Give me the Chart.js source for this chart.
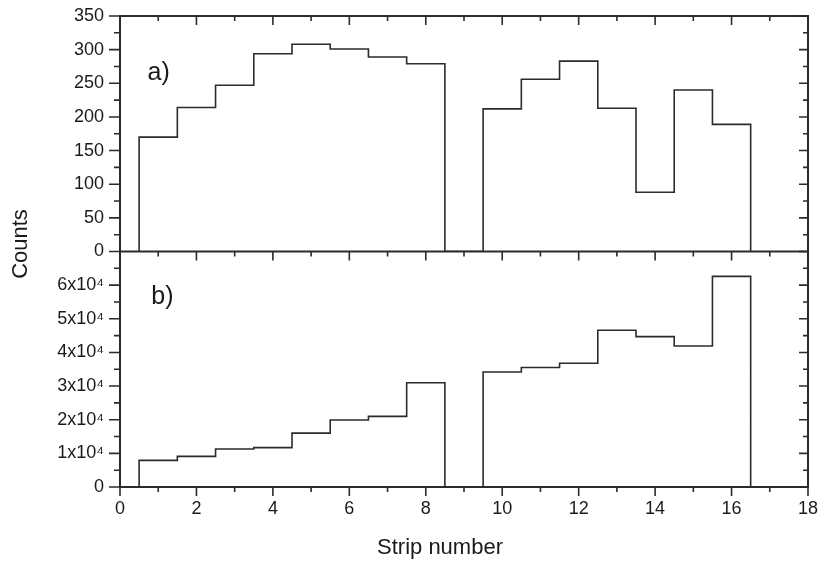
<!DOCTYPE html>
<html>
<head>
<meta charset="utf-8">
<script src="https://cdn.jsdelivr.net/npm/chart.js@4.4.1/dist/chart.umd.min.js"></script>
<style>
  html, body { margin: 0; padding: 0; background: #fff; }
  #wrap { width: 820px; height: 564px; position: relative; }
</style>
</head>
<body>
<div id="wrap"><canvas id="myChart" width="820" height="564"></canvas></div>
<script>
// strip numbers and counts
const strips = [1, 2, 3, 4, 5, 6, 7, 8, 9, 10, 11, 12, 13, 14, 15, 16];
const countsA = [170, 214, 247, 294, 308, 301, 289, 279, 0, 212, 256, 283, 213, 88, 240, 189];
const countsB = [7900, 9100, 11300, 11700, 16000, 19900, 21000, 31000, 0, 34200, 35500, 36800, 46600, 44700, 41900, 62600];
const xTicks = [0, 2, 4, 6, 8, 10, 12, 14, 16, 18];
const yTicksA = [0, 50, 100, 150, 200, 250, 300, 350];
const yTicksB = [0, 10000, 20000, 30000, 40000, 50000, 60000, 70000];

const ink = '#2b2b2b';
const fontFam = '"Liberation Sans", Arial, sans-serif';

// histogram outline: each strip holds its value from (n - 0.5) to (n + 0.5)
function stepPoints(values) {
  const pts = [{ x: strips[0] - 0.5, y: 0 }];
  strips.forEach((s, i) => pts.push({ x: s - 0.5, y: values[i] }));
  pts.push({ x: strips[strips.length - 1] + 0.5, y: 0 });
  return pts;
}

function fmtB(v) {
  if (v === 0) return '0';
  if (v === 70000) return '';
  return (v / 10000) + 'x10\u2074';
}

// frame, tick marks and free text
const framePlugin = {
  id: 'frame',
  afterDraw(chart) {
    const ctx = chart.ctx;
    const a = chart.chartArea;
    const sx = chart.scales.x, ya = chart.scales.yA, yb = chart.scales.yB;
    const mid = ya.bottom;
    ctx.save();
    ctx.strokeStyle = ink;
    ctx.lineWidth = 2;
    ctx.strokeRect(a.left, a.top, a.right - a.left, a.bottom - a.top);
    ctx.beginPath();
    ctx.moveTo(a.left, mid);
    ctx.lineTo(a.right, mid);
    ctx.stroke();

    ctx.lineWidth = 1.6;
    ctx.beginPath();
    // x ticks: top (inward), middle (downward), bottom (outward)
    for (let v = 0; v <= 18; v++) {
      const px = sx.getPixelForValue(v);
      const major = v % 2 === 0;
      const len = major ? 9 : 5;
      ctx.moveTo(px, a.top); ctx.lineTo(px, a.top + len);
      ctx.moveTo(px, mid); ctx.lineTo(px, mid + len);
      ctx.moveTo(px, a.bottom); ctx.lineTo(px, a.bottom + len);
    }
    // y ticks panel a
    for (let v = 0; v <= 350; v += 25) {
      const py = ya.getPixelForValue(v);
      const major = v % 50 === 0;
      ctx.moveTo(a.left, py); ctx.lineTo(a.left - (major ? 11 : 6), py);
      ctx.moveTo(a.right, py); ctx.lineTo(a.right - (major ? 9 : 5), py);
    }
    // y ticks panel b
    for (let v = 0; v <= 70000; v += 5000) {
      const py = yb.getPixelForValue(v);
      const major = v % 10000 === 0;
      ctx.moveTo(a.left, py); ctx.lineTo(a.left - (major ? 11 : 6), py);
      ctx.moveTo(a.right, py); ctx.lineTo(a.right - (major ? 9 : 5), py);
    }
    ctx.stroke();

    ctx.fillStyle = '#1a1a1a';
    ctx.font = '25px ' + fontFam;
    ctx.textBaseline = 'middle';
    ctx.textAlign = 'left';
    ctx.fillText('a)', sx.getPixelForValue(0.72), ya.getPixelForValue(265));
    ctx.fillText('b)', sx.getPixelForValue(0.82), yb.getPixelForValue(56500));

    ctx.font = '22px ' + fontFam;
    ctx.textAlign = 'center';
    ctx.fillText('Strip number', 440, 548);
    ctx.translate(21, 244);
    ctx.rotate(-Math.PI / 2);
    ctx.fillText('Counts', 0, 0);
    ctx.restore();
  }
};

const tickFont = { family: fontFam, size: 18 };

function noPadY(s) {
  s.width = 120;
  s.paddingTop = 0;
  s.paddingBottom = 0;
}

new Chart(document.getElementById('myChart').getContext('2d'), {
  type: 'line',
  data: {
    datasets: [
      {
        label: 'a',
        data: stepPoints(countsA),
        yAxisID: 'yA',
        stepped: 'before',
        borderColor: ink,
        borderWidth: 1.6,
        pointRadius: 0,
        fill: false
      },
      {
        label: 'b',
        data: stepPoints(countsB),
        yAxisID: 'yB',
        stepped: 'before',
        borderColor: ink,
        borderWidth: 1.6,
        pointRadius: 0,
        fill: false
      }
    ]
  },
  options: {
    responsive: false,
    animation: false,
    layout: { padding: { top: 16, right: 12, left: 0, bottom: 0 } },
    plugins: { legend: { display: false }, tooltip: { enabled: false } },
    scales: {
      x: {
        type: 'linear',
        min: 0,
        max: 18,
        afterBuildTicks: (s) => { s.ticks = xTicks.map((v) => ({ value: v })); },
        ticks: { font: tickFont, color: '#1a1a1a', padding: 11, maxRotation: 0, autoSkip: false },
        grid: { display: false, drawTicks: false },
        border: { display: false },
        afterFit: (s) => { s.height = 77; s.paddingLeft = 0; s.paddingRight = 0; }
      },
      yA: {
        type: 'linear',
        position: 'left',
        stack: 'panels',
        stackWeight: 1,
        weight: 1,
        min: 0,
        max: 350,
        afterBuildTicks: (s) => { s.ticks = yTicksA.map((v) => ({ value: v })); },
        ticks: { font: tickFont, color: '#1a1a1a', padding: 16, autoSkip: false },
        grid: { display: false, drawTicks: false },
        border: { display: false },
        afterFit: noPadY
      },
      yB: {
        type: 'linear',
        position: 'left',
        stack: 'panels',
        stackWeight: 1,
        weight: 0,
        min: 0,
        max: 70000,
        afterBuildTicks: (s) => { s.ticks = yTicksB.map((v) => ({ value: v })); },
        ticks: { font: tickFont, color: '#1a1a1a', padding: 16, autoSkip: false, callback: (v) => fmtB(v) },
        grid: { display: false, drawTicks: false },
        border: { display: false },
        afterFit: noPadY
      }
    }
  },
  plugins: [framePlugin]
});
</script>
</body>
</html>
